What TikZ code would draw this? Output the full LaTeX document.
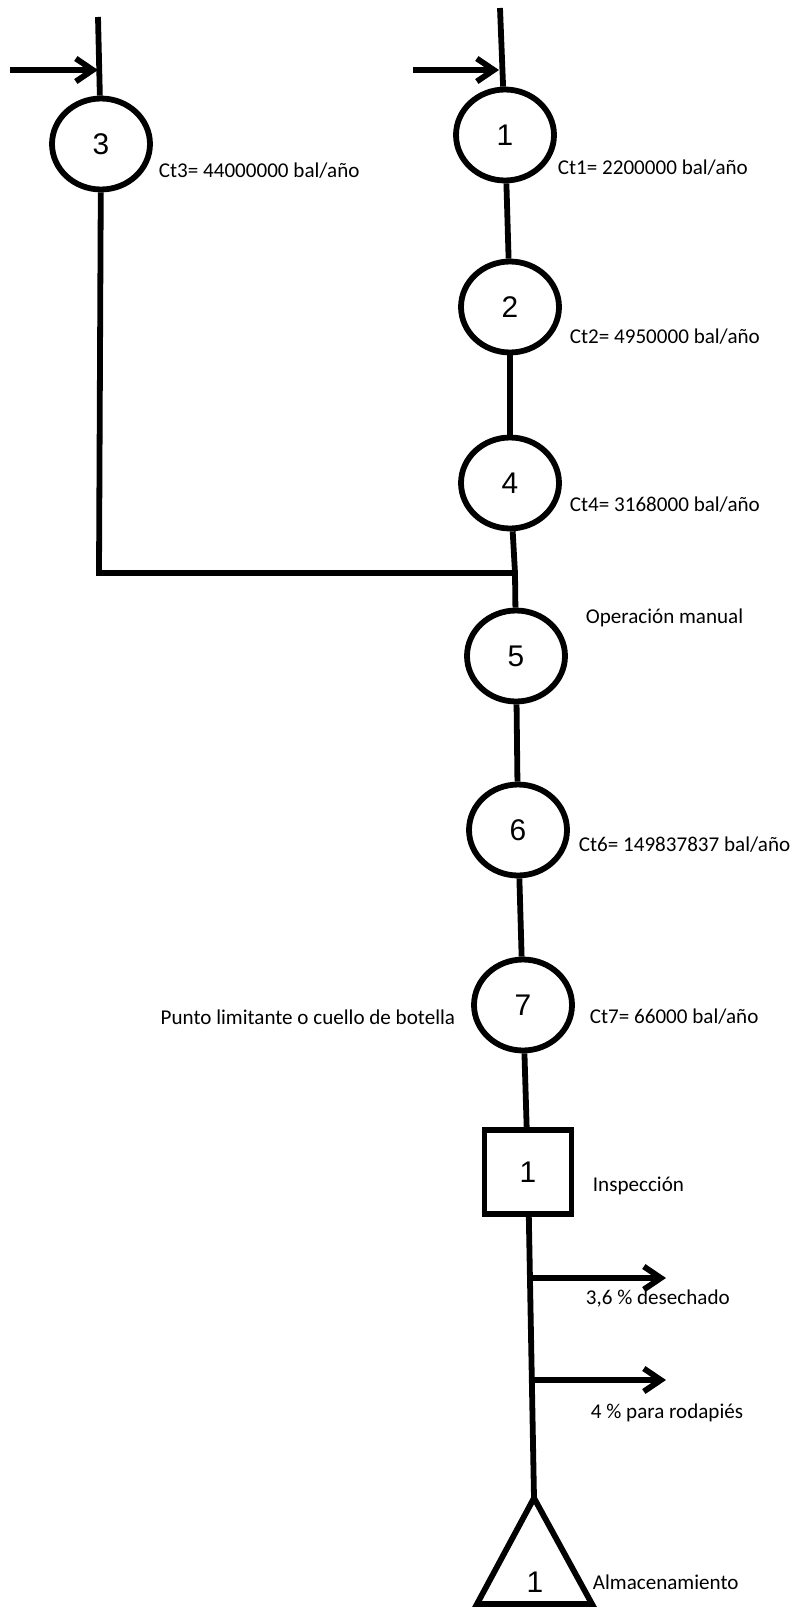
\documentclass[tikz,border=0pt]{standalone}
\usepackage{fontspec}
\setmainfont{Carlito}
\newfontfamily\numfont{Liberation Sans}
\usetikzlibrary{shapes.geometric,arrows.meta}

\begin{document}
\begin{tikzpicture}[x=0.02cm, y=-0.02cm, line width=3.3pt, line join=miter,
    >={Straight Barb[length=3.4mm,width=4.6mm]},
    op/.style={ellipse, draw, minimum width=1.96cm, minimum height=1.82cm, inner sep=0pt, font=\numfont\fontsize{17}{19}\selectfont},
    insp/.style={rectangle, draw, minimum width=1.74cm, minimum height=1.68cm, inner sep=0pt, font=\numfont\fontsize{17}{19}\selectfont},
    lbl/.style={anchor=west, inner sep=0pt, font=\fontsize{12}{14}\selectfont}]
    \useasboundingbox (0,0) rectangle (794,1612);

    % operaciones
    \node[op] (c3) at (101,144) {3};
    \node[op] (c1) at (505,135) {1};
    \node[op] (c2) at (510,307) {2};
    \node[op] (c4) at (510,483) {4};
    \node[op] (c5) at (516,656) {5};
    \node[op] (c6) at (518,830) {6};
    \node[op] (c7) at (523,1005) {7};
    \node[insp] (sq) at (528,1172) {1};
    \node[font=\numfont\fontsize{17}{19}\selectfont] (n1) at (535,1582) {1};

    \coordinate (t3) at (98,17);
    \coordinate (t1) at (500,8);
    \coordinate (in3) at (10,70);
    \coordinate (e3) at (98,70);
    \coordinate (in1) at (413,70);
    \coordinate (e1) at (499,70);
    \coordinate (k) at (99,573);
    \coordinate (j) at (515,573);
    \coordinate (alm) at (534,1498);
    \coordinate (d1) at (533,1278);
    \coordinate (o1) at (666,1278);
    \coordinate (d2) at (533,1380);
    \coordinate (o2) at (666,1380);

    % entradas
    \draw (t3) -- (c3);
    \draw (t1) -- (c1);
    \draw[->] (in3) -- (e3);
    \draw[->] (in1) -- (e1);

    % linea principal
    \draw (c1) -- (c2);
    \draw (c2) -- (c4);
    \draw (c4) -- (j) -- (c5);
    \draw (c3) -- (k) -- (j);
    \draw (c5) -- (c6);
    \draw (c6) -- (c7);
    \draw (c7) -- (sq);
    \draw (sq) -- (alm);

    % salidas
    \draw[->] (d1) -- (o1);
    \draw[->] (d2) -- (o2);

    % almacenamiento
    \draw (alm) -- (477,1604) -- (592,1604) -- cycle;

    % textos
    \node[lbl] (l3) at (156,171) {Ct3= 44000000 bal/año};
    \node[lbl] (l1) at (555,168) {Ct1= 2200000 bal/año};
    \node[lbl] (l2) at (567,337) {Ct2= 4950000 bal/año};
    \node[lbl] (l4) at (567,505) {Ct4= 3168000 bal/año};
    \node[lbl] (l5) at (583,618) {Operación manual};
    \node[lbl] (l6) at (576,845) {Ct6= 149837837 bal/año};
    \node[lbl] (l7) at (587,1017) {Ct7= 66000 bal/año};
    \node[lbl, anchor=east] (cb) at (458,1017) {Punto limitante o cuello de botella};
    \node[lbl] (li) at (590,1186) {Inspección};
    \node[lbl] (ld) at (583,1299) {3,6 \% desechado};
    \node[lbl] (lr) at (588,1413) {4 \% para rodapiés};
    \node[lbl] (la) at (590,1582) {Almacenamiento};
\end{tikzpicture}
\end{document}
